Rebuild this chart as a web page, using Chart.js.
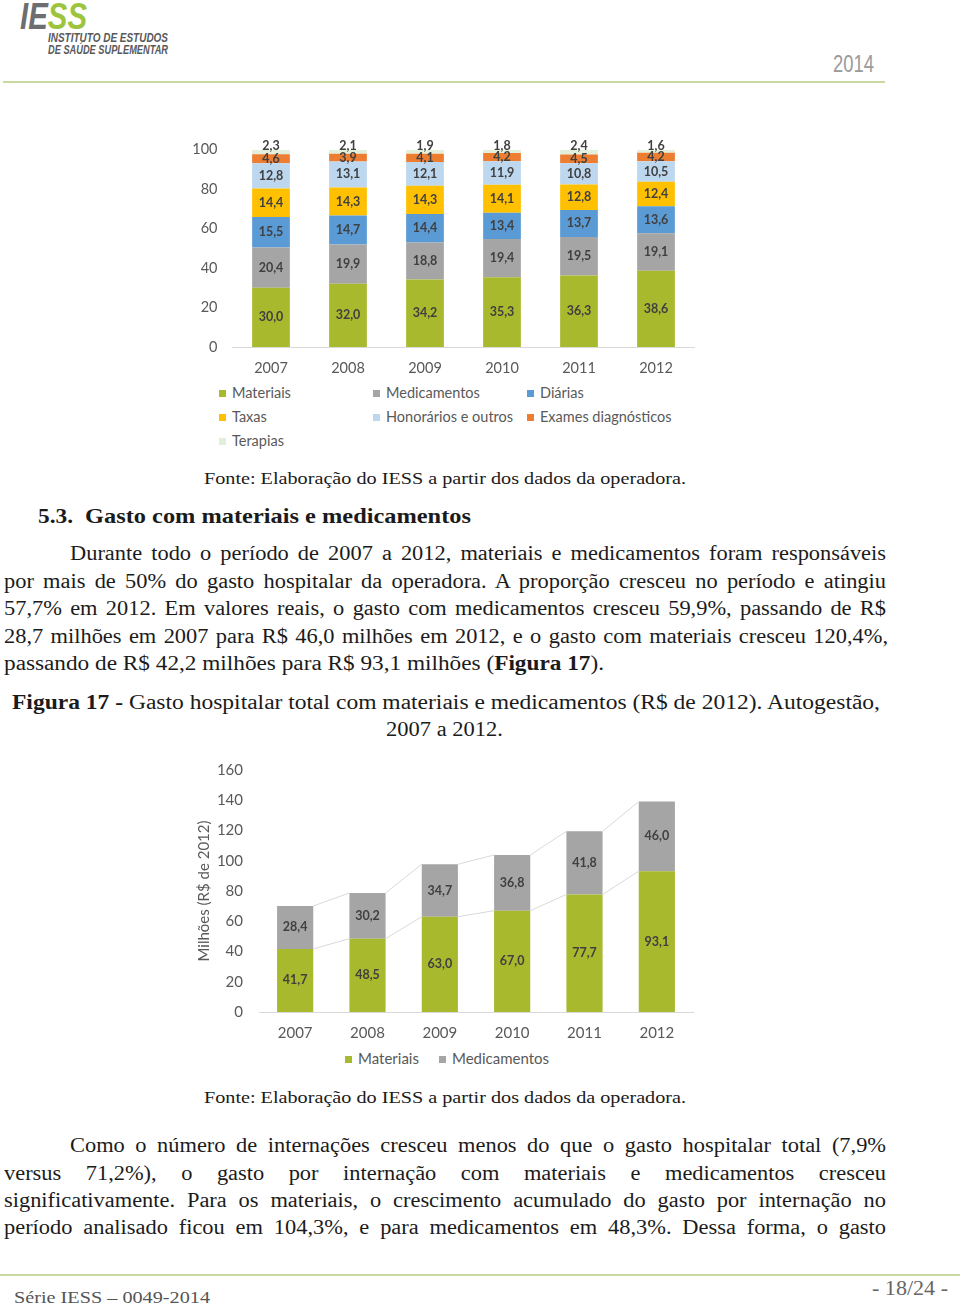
<!DOCTYPE html>
<html><head><meta charset="utf-8">
<script src="https://cdn.jsdelivr.net/npm/chart.js@4.4.1/dist/chart.umd.min.js"></script>
<style>
html,body{margin:0;padding:0;background:#fff;}
body{width:960px;height:1306px;position:relative;overflow:hidden;font-family:"Liberation Serif","DejaVu Serif",serif;color:#1b1b1b;}
.ab{position:absolute;white-space:nowrap;}
.fit,.just{display:inline-block;transform-origin:0 50%;}
.rule{position:absolute;background:#c8da9f;height:2px;}
.leg{position:absolute;font-family:Lato,"Open Sans",sans-serif;color:#595959;white-space:nowrap;}
.leg i{display:inline-block;width:7px;height:7px;margin-right:6px;vertical-align:1px;}
canvas{position:absolute;}
</style></head><body>

<!-- header -->
<div class="ab" style="left:20px;top:-4.5px;font:italic bold 36px 'Liberation Sans Narrow','Liberation Sans',sans-serif;"><span class="fit" data-w="67"><span style="color:#6d6e71">IE</span><span style="color:#9cc53d">SS</span></span></div>
<div class="ab" style="left:48px;top:31px;font:italic bold 12.5px 'Liberation Sans Narrow','Liberation Sans',sans-serif;color:#58595b;"><span class="fit" data-w="120">INSTITUTO DE ESTUDOS</span></div>
<div class="ab" style="left:48px;top:43px;font:italic bold 12.5px 'Liberation Sans Narrow','Liberation Sans',sans-serif;color:#58595b;"><span class="fit" data-w="120">DE SAÚDE SUPLEMENTAR</span></div>
<div class="ab" style="left:833px;top:50px;font:24px 'Liberation Sans Narrow','Liberation Sans',sans-serif;color:#9a9a9a;"><span class="fit" data-w="41">2014</span></div>
<div class="rule" style="left:3px;top:81px;width:882px;"></div>

<!-- chart 1 -->
<canvas id="c1" style="left:180px;top:126px;width:520px;height:256px;" width="520" height="256"></canvas>
<div id="leg1"></div>

<div class="ab" style="left:204px;top:469px;font-size:17px;"><span class="fit" data-w="482">Fonte: Elaboração do IESS a partir dos dados da operadora.</span></div>
<div class="ab" style="left:38px;top:504px;font-size:21px;font-weight:bold;"><span class="fit" data-w="35">5.3.</span></div>
<div class="ab" style="left:85px;top:504px;font-size:21px;font-weight:bold;"><span class="fit" data-w="386">Gasto com materiais e medicamentos</span></div>

<div class="ab" style="left:70px;top:542px;font-size:20px;"><span class="just" data-w="816">Durante todo o período de 2007 a 2012, materiais e medicamentos foram responsáveis</span></div>
<div class="ab" style="left:4px;top:570px;font-size:20px;"><span class="just" data-w="882">por mais de 50% do gasto hospitalar da operadora. A proporção cresceu no período e atingiu</span></div>
<div class="ab" style="left:4px;top:597px;font-size:20px;"><span class="just" data-w="882">57,7% em 2012. Em valores reais, o gasto com medicamentos cresceu 59,9%, passando de R$</span></div>
<div class="ab" style="left:4px;top:625px;font-size:20px;"><span class="just" data-w="884">28,7 milhões em 2007 para R$ 46,0 milhões em 2012, e o gasto com materiais cresceu 120,4%,</span></div>
<div class="ab" style="left:4px;top:652px;font-size:20px;"><span class="fit" data-w="600">passando de R$ 42,2 milhões para R$ 93,1 milhões (<b>Figura 17</b>).</span></div>

<div class="ab" style="left:12px;top:691px;font-size:20.5px;"><span class="fit" data-w="868"><b>Figura 17 -</b> Gasto hospitalar total com materiais e medicamentos (R$ de 2012). Autogestão,</span></div>
<div class="ab" style="left:386px;top:718px;font-size:20.5px;"><span class="fit" data-w="117">2007 a 2012.</span></div>

<!-- chart 2 -->
<canvas id="c2" style="left:180px;top:745px;width:520px;height:302px;" width="520" height="302"></canvas>
<div id="leg2"></div>

<div class="ab" style="left:204px;top:1088px;font-size:17px;"><span class="fit" data-w="482">Fonte: Elaboração do IESS a partir dos dados da operadora.</span></div>

<div class="ab" style="left:70px;top:1134px;font-size:20px;"><span class="just" data-w="816">Como o número de internações cresceu menos do que o gasto hospitalar total (7,9%</span></div>
<div class="ab" style="left:4px;top:1162px;font-size:20px;"><span class="just" data-w="882">versus 71,2%), o gasto por internação com materiais e medicamentos cresceu</span></div>
<div class="ab" style="left:4px;top:1189px;font-size:20px;"><span class="just" data-w="882">significativamente. Para os materiais, o crescimento acumulado do gasto por internação no</span></div>
<div class="ab" style="left:4px;top:1216px;font-size:20px;"><span class="just" data-w="882">período analisado ficou em 104,3%, e para medicamentos em 48,3%. Dessa forma, o gasto</span></div>

<!-- footer -->
<div class="rule" style="left:0;top:1274px;width:960px;"></div>
<div class="ab" style="left:14px;top:1288px;font-size:17px;color:#555;"><span class="fit" data-w="196">Série IESS – 0049-2014</span></div>
<div class="ab" style="left:872px;top:1277px;font-size:20px;color:#666;"><span class="fit" data-w="76">- 18/24 -</span></div>

<script>
// ---- data ----
const years = ['2007','2008','2009','2010','2011','2012'];
const materiaisPct = [30.0, 32.0, 34.2, 35.3, 36.3, 38.6];
const medicamentosPct = [20.4, 19.9, 18.8, 19.4, 19.5, 19.1];
const diariasPct = [15.5, 14.7, 14.4, 13.4, 13.7, 13.6];
const taxasPct = [14.4, 14.3, 14.3, 14.1, 12.8, 12.4];
const honorariosPct = [12.8, 13.1, 12.1, 11.9, 10.8, 10.5];
const examesPct = [4.6, 3.9, 4.1, 4.2, 4.5, 4.2];
const terapiasPct = [2.3, 2.1, 1.9, 1.8, 2.4, 1.6];
const ticksPct = [0, 20, 40, 60, 80, 100];

const materiaisMi = [41.7, 48.5, 63.0, 67.0, 77.7, 93.1];
const medicamentosMi = [28.4, 30.2, 34.7, 36.8, 41.8, 46.0];
const ticksMi = [0, 20, 40, 60, 80, 100, 120, 140, 160];
const yTitle2 = 'Milhões (R$ de 2012)';

const FONT = 'Lato, "Open Sans", sans-serif';
const fmt = v => v.toFixed(1).replace('.', ',');

const labelPlugin = {
  id: 'vals',
  afterDatasetsDraw(chart) {
    const ctx = chart.ctx;
    ctx.save();
    ctx.font = 'bold 12.5px ' + FONT;
    ctx.fillStyle = '#404040';
    ctx.textAlign = 'center';
    ctx.textBaseline = 'middle';
    chart.data.datasets.forEach((ds, i) => {
      const meta = chart.getDatasetMeta(i);
      meta.data.forEach((bar, j) => {
        const y = ds.labelAbove ? bar.y - 4 : (bar.y + bar.base) / 2;
        ctx.fillText(fmt(ds.data[j]), bar.x, y);
      });
    });
    ctx.restore();
  }
};

const seriesLines = {
  id: 'serieslines',
  afterDatasetsDraw(chart) {
    const ctx = chart.ctx;
    ctx.save();
    ctx.strokeStyle = '#d9d9d9';
    ctx.lineWidth = 1;
    chart.data.datasets.forEach((ds, i) => {
      const bars = chart.getDatasetMeta(i).data;
      for (let j = 0; j < bars.length - 1; j++) {
        const a = bars[j], b = bars[j + 1];
        ctx.beginPath();
        ctx.moveTo(a.x + a.width / 2, a.y);
        ctx.lineTo(b.x - b.width / 2, b.y);
        ctx.stroke();
      }
    });
    ctx.restore();
  }
};

function tickList(list) {
  return function (scale) { scale.ticks = list.map(v => ({ value: v })); };
}

// move the plot area to the reference's box (canvas-relative)
function calibrate(chart, want) {
  for (let k = 0; k < 3; k++) {
    const a = chart.chartArea;
    const p = Object.assign({}, chart.config.options.layout.padding);
    p.top += want.top - a.top;
    p.left += want.left - a.left;
    p.right += a.right - want.right;
    p.bottom += a.bottom - want.bottom;
    chart.config.options.layout.padding = p;
    chart.update();
  }
}

// ---- chart 1 ----
const ds1 = [
  { label: 'Materiais', data: materiaisPct, backgroundColor: '#a9b92d' },
  { label: 'Medicamentos', data: medicamentosPct, backgroundColor: '#a5a5a5' },
  { label: 'Diárias', data: diariasPct, backgroundColor: '#5b9bd5' },
  { label: 'Taxas', data: taxasPct, backgroundColor: '#ffc000' },
  { label: 'Honorários e outros', data: honorariosPct, backgroundColor: '#bdd7ee' },
  { label: 'Exames diagnósticos', data: examesPct, backgroundColor: '#ed7d31' },
  { label: 'Terapias', data: terapiasPct, backgroundColor: '#e2efda', labelAbove: true }
];
ds1.forEach(d => { d.barPercentage = 0.49; d.categoryPercentage = 1; d.borderWidth = 0; });

const chart1 = new Chart(document.getElementById('c1'), {
  type: 'bar',
  data: { labels: years, datasets: ds1 },
  options: {
    responsive: false, animation: false, devicePixelRatio: 1,
    layout: { padding: { top: 10, right: 5, left: 0, bottom: 0 } },
    plugins: { legend: { display: false }, tooltip: { enabled: false } },
    scales: {
      x: {
        stacked: true,
        grid: { display: false, drawTicks: false },
        border: { display: true, color: '#d9d9d9' },
        ticks: { color: '#595959', font: { family: FONT, size: 14.5 }, padding: 13 },
        afterFit(s) { s.height = 35; }
      },
      y: {
        stacked: true, min: 0, max: 100,
        grid: { display: false, drawTicks: false },
        border: { display: false },
        ticks: { color: '#595959', font: { family: FONT, size: 14.5 }, padding: 15, stepSize: 20 },
        afterBuildTicks: tickList(ticksPct),
        afterFit(s) { s.width = 52; }
      }
    }
  },
  plugins: [labelPlugin]
});
// canvas top is 126: value 100 at page y 150, value 0 at page y 347
calibrate(chart1, { top: 24, bottom: 221, left: 52.5, right: 514.5 });

// legend 1
const legPos1 = [[219, 393], [373, 393], [527, 393], [219, 417], [373, 417], [527, 417], [219, 441]];
let h1 = '';
ds1.forEach((d, i) => {
  h1 += `<div class="leg" style="left:${legPos1[i][0]}px;top:${legPos1[i][1] - 9}px;font-size:14.5px;line-height:18px;"><i style="background:${d.backgroundColor}"></i>${d.label}</div>`;
});
document.getElementById('leg1').innerHTML = h1;

// ---- chart 2 ----
const ds2 = [
  { label: 'Materiais', data: materiaisMi, backgroundColor: '#a9b92d' },
  { label: 'Medicamentos', data: medicamentosMi, backgroundColor: '#a5a5a5' }
];
ds2.forEach(d => { d.barPercentage = 0.5; d.categoryPercentage = 1; d.borderWidth = 0; });

const chart2 = new Chart(document.getElementById('c2'), {
  type: 'bar',
  data: { labels: years, datasets: ds2 },
  options: {
    responsive: false, animation: false, devicePixelRatio: 1,
    layout: { padding: { top: 10, right: 6, left: 11, bottom: 0 } },
    plugins: { legend: { display: false }, tooltip: { enabled: false } },
    scales: {
      x: {
        stacked: true,
        grid: { display: false, drawTicks: false },
        border: { display: true, color: '#d9d9d9' },
        ticks: { color: '#595959', font: { family: FONT, size: 15 }, padding: 12 },
        afterFit(s) { s.height = 35; }
      },
      y: {
        stacked: true, min: 0, max: 160,
        grid: { display: false, drawTicks: false },
        border: { display: false },
        title: { display: true, text: yTitle2, color: '#595959', font: { family: FONT, size: 15 } },
        ticks: { color: '#595959', font: { family: FONT, size: 15 }, padding: 16, stepSize: 20 },
        afterBuildTicks: tickList(ticksMi),
        afterFit(s) { s.width = 68; }
      }
    }
  },
  plugins: [seriesLines, labelPlugin]
});
// canvas top is 745: value 160 at page y 768, value 0 at page y 1012
calibrate(chart2, { top: 23, bottom: 267, left: 79, right: 513 });

const legPos2 = [[345, 1058], [439, 1058]];
let h2 = '';
ds2.forEach((d, i) => {
  h2 += `<div class="leg" style="left:${legPos2[i][0]}px;top:${legPos2[i][1] - 9}px;font-size:15px;line-height:18px;"><i style="background:${d.backgroundColor}"></i>${d.label}</div>`;
});
document.getElementById('leg2').innerHTML = h2;

// ---- text fitting ----
function fitAll() {
  document.querySelectorAll('.fit').forEach(el => {
    const w = el.getBoundingClientRect().width;
    const t = +el.dataset.w;
    if (w > 0) el.style.transform = `scaleX(${t / w})`;
  });
  document.querySelectorAll('.just').forEach(el => {
    const w = el.getBoundingClientRect().width;
    const t = +el.dataset.w;
    const n = (el.textContent.match(/ /g) || []).length;
    let s = t / w;
    if (s > 1.12) {
      const ws = (t / 1.12 - w) / n;
      el.style.wordSpacing = ws + 'px';
      const w2 = el.getBoundingClientRect().width;
      s = t / w2;
    }
    el.style.transform = `scaleX(${s})`;
  });
}
fitAll();
</script>
</body></html>
